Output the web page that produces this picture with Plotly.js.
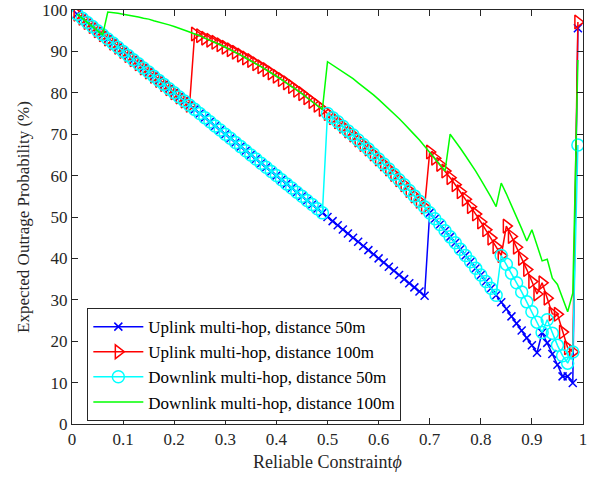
<!DOCTYPE html>
<html>
<head>
<meta charset="utf-8">
<script src="https://cdn.plot.ly/plotly-3.0.1.min.js"></script>
<style>html,body{margin:0;padding:0;background:#fff;}#chart{width:594px;height:478px;}</style>
</head>
<body>
<div id="chart"></div>
<script>
// Reliable constraint phi (x values)
const phi = [0.01,0.02,0.03,0.04,0.05,0.06,0.07,0.08,0.09,0.10,
0.11,0.12,0.13,0.14,0.15,0.16,0.17,0.18,0.19,0.20,
0.21,0.22,0.23,0.24,0.25,0.26,0.27,0.28,0.29,0.30,
0.31,0.32,0.33,0.34,0.35,0.36,0.37,0.38,0.39,0.40,
0.41,0.42,0.43,0.44,0.45,0.46,0.47,0.48,0.49,0.50,
0.51,0.52,0.53,0.54,0.55,0.56,0.57,0.58,0.59,0.60,
0.61,0.62,0.63,0.64,0.65,0.66,0.67,0.68,0.69,0.70,
0.71,0.72,0.73,0.74,0.75,0.76,0.77,0.78,0.79,0.80,
0.81,0.82,0.83,0.84,0.85,0.86,0.87,0.88,0.89,0.90,
0.91,0.92,0.93,0.94,0.95,0.96,0.97,0.98,0.99];

// Uplink multi-hop, distance 50m
const uplink50 = [99,98,97,96,95,94,93,92,91,90,
89,88,87,86,85,84,83,82,81,80,
79,78,77,76,75,74,73,72,71,70,
69,68,67,66,65,64,63,62,61,60,
59,58,57,56,55,54,53,52,51,50,
49,48,47,46,45,44,43,42,41,40,
39,38,37,36,35,34,33,32,31,51.0,
49.6,48.2,46.7,45.2,43.8,42.2,40.7,39.2,37.6,36.0,
34.4,32.8,31.1,29.4,27.8,26.0,24.3,22.6,20.8,19.0,
17.2,22.1,19.6,16.9,14.3,11.5,11.5,9.9,95.6];

// Uplink multi-hop, distance 100m
const uplink100 = [99,98,97,96,95,94,93,92,91,90,
89,88,87,86,85,84,83,82,81,80,
79,78,77,94.2,93.8,93.2,92.7,92.2,91.6,91.0,
90.4,89.8,89.1,88.4,87.8,87.0,86.3,85.6,84.8,84.0,
83.2,82.4,81.5,80.6,79.8,78.8,77.9,77.0,76.0,75.0,
74.0,73.0,71.9,70.8,69.8,68.6,67.5,66.4,65.2,64.0,
62.8,61.6,60.3,59.0,57.8,56.4,55.1,53.8,52.4,65.7,
64.2,62.7,61.1,59.5,57.8,56.1,54.3,52.5,50.7,48.8,
46.9,44.9,42.8,40.7,47.8,45.3,42.7,40.0,37.3,34.4,
31.4,34.1,30.4,26.6,26.5,22.2,18.4,17.4,97.1];

// Downlink multi-hop, distance 50m
const downlink50 = [99,98,97,96,95,94,93,92,91,90,
89,88,87,86,85,84,83,82,81,80,
79,78,77,76,75,74,73,72,71,70,
69,68,67,66,65,64,63,62,61,60,
59,58,57,56,55,54,53,52,51,75.0,
74.0,73.0,71.9,70.8,69.8,68.6,67.5,66.4,65.2,64.0,
62.8,61.6,60.3,59.0,57.8,56.4,55.1,53.8,52.4,51.0,
49.6,48.2,46.7,45.2,43.8,42.2,40.7,39.2,37.6,36.0,
34.4,32.8,31.1,40.7,38.6,36.4,34.1,31.9,29.5,27.1,
24.6,22.1,25.2,21.9,19.0,16.5,14.7,17.4,67.4];

// Downlink multi-hop, distance 100m
const downlink100 = [99,98,97,96,95,94,99.5,99.4,99.2,99.0,
98.8,98.6,98.3,98.0,97.8,97.4,97.1,96.8,96.4,96.0,
95.6,95.2,94.7,94.2,93.8,93.2,92.7,92.2,91.6,91.0,
90.4,89.8,89.1,88.4,87.8,87.0,86.3,85.6,84.8,84.0,
83.2,82.4,81.5,80.6,79.8,78.8,77.9,77.0,76.0,87.5,
86.7,85.9,85.1,84.3,83.4,82.4,81.5,80.5,79.5,78.4,
77.3,76.2,75.0,73.8,72.5,71.3,69.9,68.6,67.1,65.7,
64.2,62.7,61.1,70.0,68.4,66.6,64.8,63.0,61.1,59.0,
57.0,54.8,52.5,58.2,55.6,52.9,50.2,47.2,44.2,46.9,
43.2,39.4,39.8,35.2,33.7,30.5,27.1,31.6,87.9];

const seriesNames = ['Uplink multi-hop, distance 50m','Uplink multi-hop, distance 100m',
  'Downlink multi-hop, distance 50m','Downlink multi-hop, distance 100m'];
const xTickVals = [0,0.1,0.2,0.3,0.4,0.5,0.6,0.7,0.8,0.9,1];
const xTickText = ['0','0.1','0.2','0.3','0.4','0.5','0.6','0.7','0.8','0.9','1'];
const yTickVals = [0,10,20,30,40,50,60,70,80,90,100];

const font = 'Liberation Serif, Times New Roman, serif';
const traces = [
  {x: phi, y: uplink50, name: seriesNames[0], mode: 'lines+markers',
   line: {color: '#0000ff', width: 1.5},
   marker: {symbol: 'x-thin-open', size: 8, color: '#0000ff', line: {color: '#0000ff', width: 1.5}}},
  {x: phi, y: uplink100, name: seriesNames[1], mode: 'lines+markers',
   line: {color: '#ff0000', width: 1.5},
   marker: {symbol: 'triangle-right-open', size: 12, color: '#ff0000', line: {color: '#ff0000', width: 1.5}}},
  {x: phi, y: downlink50, name: seriesNames[2], mode: 'lines+markers',
   line: {color: '#00ffff', width: 1.5},
   marker: {symbol: 'circle-open', size: 12, color: '#00ffff', line: {color: '#00ffff', width: 1.5}}},
  {x: phi, y: downlink100, name: seriesNames[3], mode: 'lines',
   line: {color: '#00ff00', width: 1.5}}
];

const axisCommon = {
  showline: true, mirror: 'ticks', linecolor: '#262626', linewidth: 1,
  ticks: 'inside', ticklen: 6, tickcolor: '#262626', tickwidth: 1,
  showgrid: false, zeroline: false,
  tickfont: {family: font, size: 17, color: '#262626'}
};

const layout = {
  width: 594, height: 478,
  margin: {l: 72, r: 11, t: 10, b: 54},
  paper_bgcolor: '#ffffff', plot_bgcolor: '#ffffff',
  showlegend: true,
  xaxis: Object.assign({}, axisCommon, {
    range: [0, 1], tickvals: xTickVals, ticktext: xTickText,
    title: {text: 'Reliable Constraint<i>ϕ</i>', font: {family: font, size: 18, color: '#262626'}, standoff: 6}
  }),
  yaxis: Object.assign({}, axisCommon, {
    range: [0, 100], tickvals: yTickVals,
    title: {text: 'Expected Outrage Probability (%)', font: {family: font, size: 17, color: '#262626'}, standoff: 8}
  }),
  legend: {
    x: 0.03, y: 0.28, xanchor: 'left', yanchor: 'top',
    bgcolor: '#ffffff', bordercolor: '#262626', borderwidth: 1,
    font: {family: font, size: 17, color: '#000000'},
    itemwidth: 50, tracegroupgap: 0
  }
};

Plotly.newPlot('chart', traces, layout, {displayModeBar: false, staticPlot: true});
</script>
</body>
</html>
